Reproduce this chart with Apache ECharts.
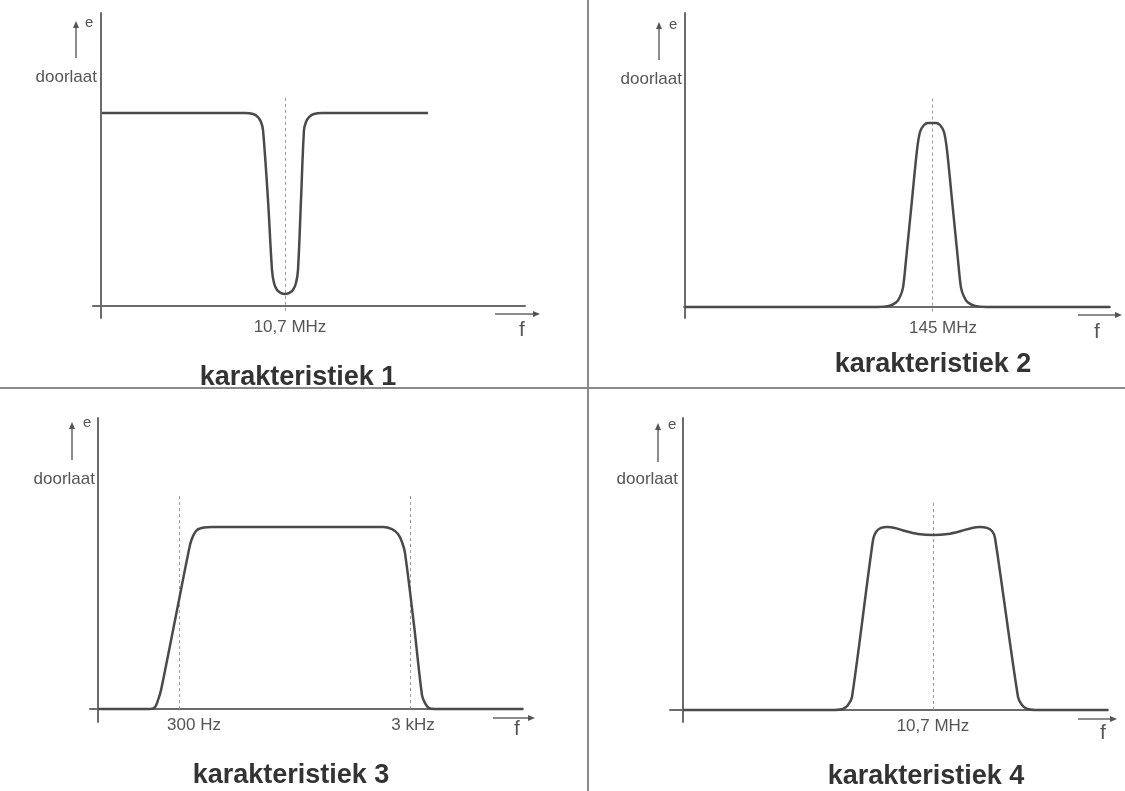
<!DOCTYPE html>
<html><head><meta charset="utf-8">
<script src="https://cdn.jsdelivr.net/npm/echarts@6/dist/echarts.min.js"></script>
<style>html,body{margin:0;padding:0;background:#fff}#c{width:1125px;height:791px}</style>
</head><body><div id="c"></div>
<script>
// ---- data (relative frequency units, transmission in % of pass level) ----
const titles = ['karakteristiek 1', 'karakteristiek 2', 'karakteristiek 3', 'karakteristiek 4'];
const yName = 'doorlaat';
const yUnit = 'e';
const xUnit = 'f';

const curve1 = [[1,100],[144,100],[152,99.5],[157,97.9],[160,95.3],[162,91.2],[167,54.9],[171,18.7],[173,11.9],[176,8.3],[180,6.7],[184,6.2],[188,6.7],[192,8.3],[195,11.9],[197,18.7],[200,54.9],[203,91.2],[205,95.3],[208,97.9],[213,99.5],[221,100],[327,100]];
const curve2 = [[0,0],[193,0],[204,0.6],[211,2.4],[215,5.6],[218,10.5],[221,25.5],[227,58.2],[232,85.3],[235,95.1],[239,98.9],[243,100],[251,100],[255,98.9],[259,95.1],[262,85.3],[267,58.2],[273,25.5],[276,10.5],[279,5.6],[283,2.4],[290,0.6],[301,0],[425,0]];
const curve3 = [[0,0],[52,0],[57,1.1],[60,4.9],[63,10.4],[78,51.6],[92,90.1],[95,95],[99,98.4],[106,99.7],[114,100],[285,100],[294,98.9],[300,96.2],[304,91.8],[307,85.7],[316,46.2],[324,7.7],[327,3.3],[331,0.5],[337,0],[425,0]];
const curve4 = [[0,0],[152,0],[160,0.5],[165,2.7],[169,7.1],[190,92.9],[193,97.3],[198,99.5],[204,100],[212,99.5],[222,97.8],[235,96.2],[250,95.6],[265,96.2],[278,97.8],[289,99.5],[297,100],[304,99.5],[309,97.8],[312,94.0],[335,7.1],[339,2.7],[344,0.5],[352,0],[425,0]];

const markers1 = [184];      const markerLabels1 = ['10,7 MHz'];
const markers2 = [247];      const markerLabels2 = ['145 MHz'];
const markers3 = [81, 312];  const markerLabels3 = ['300 Hz', '3 kHz'];
const markers4 = [250];      const markerLabels4 = ['10,7 MHz'];

// ---- layout ----
const curves = [curve1, curve2, curve3, curve4];
const markers = [markers1, markers2, markers3, markers4];
const markerLabels = [markerLabels1, markerLabels2, markerLabels3, markerLabels4];

const L = [
  {grid:{left:93,top:13,width:432,height:305}, x:[-8,424], y:[-6.2,151.8], ya:[76,21,58], e:[85,23], d:[97,77], fa:[495,540,314], f:[522,330], t:[298,378], mTop:109, mStart:-2.5, dx:[5]},
  {grid:{left:684,top:13,width:426,height:305}, x:[-1,425], y:[-6.0,159.8], ya:[659,22,60], e:[669,25], d:[682,79], fa:[1078,1122,315], f:[1097,332], t:[933,365], mTop:115, mStart:-2.5, dx:[11]},
  {grid:{left:90,top:418,width:433,height:304}, x:[-8,425], y:[-7.1,159.9], ya:[72,422,460], e:[83,423], d:[95,479], fa:[493,535,718], f:[517,729], t:[291,776], mTop:118.7, mStart:0, dx:[15,3]},
  {grid:{left:670,top:418,width:438,height:304}, x:[-13,425], y:[-6.6,159.6], ya:[658,423,462], e:[668,425], d:[678,479], fa:[1078,1117,719], f:[1103,733], t:[926,777], mTop:114.8, mStart:0, dx:[0]}
];

const axisColor = '#6b6b6b';
const textColor = '#555';
const lblFont = '17px "Liberation Sans", Arial, sans-serif';

const grids = [], xAxes = [], yAxes = [], series = [], graphics = [];

L.forEach((p, i) => {
  grids.push(Object.assign({containLabel:false}, p.grid));
  const ax = {
    type:'value', gridIndex:i,
    axisLine:{show:true, onZero:true, lineStyle:{color:axisColor, width:2}},
    axisTick:{show:false}, axisLabel:{show:false}, splitLine:{show:false}
  };
  xAxes.push(Object.assign({}, ax, {min:p.x[0], max:p.x[1]}));
  yAxes.push(Object.assign({}, ax, {min:p.y[0], max:p.y[1]}));

  series.push({
    type:'line', xAxisIndex:i, yAxisIndex:i, data:curves[i],
    symbol:'none', smooth:0.3, z:5,
    lineStyle:{color:'#4a4a4a', width:2.5},
    markLine:{
      silent:true, symbol:['none','none'], animation:false,
      lineStyle:{color:'#9a9a9a', type:[3,3], width:1},
      data: markers[i].map((m, k) => [
        {coord:[m, p.mStart], label:{show:true, position:'start', distance:8, offset:[p.dx[k]||0,0],
          formatter:markerLabels[i][k], color:textColor, fontSize:17, fontFamily:'"Liberation Sans", Arial, sans-serif'}},
        {coord:[m, p.mTop]}
      ])
    }
  });

  // y arrow + labels
  graphics.push({type:'line', shape:{x1:p.ya[0], y1:p.ya[1]+5, x2:p.ya[0], y2:p.ya[2]}, style:{stroke:'#666', lineWidth:1.5}});
  graphics.push({type:'polygon', shape:{points:[[p.ya[0]-3,p.ya[1]+7],[p.ya[0]+3,p.ya[1]+7],[p.ya[0],p.ya[1]]]}, style:{fill:'#555'}});
  graphics.push({type:'text', x:p.e[0], y:p.e[1], style:{text:yUnit, font:'15px "Liberation Sans", Arial, sans-serif', fill:textColor, align:'left', verticalAlign:'middle'}});
  graphics.push({type:'text', x:p.d[0], y:p.d[1], style:{text:yName, font:lblFont, fill:textColor, align:'right', verticalAlign:'middle'}});
  // x arrow + f
  graphics.push({type:'line', shape:{x1:p.fa[0], y1:p.fa[2], x2:p.fa[1]-5, y2:p.fa[2]}, style:{stroke:'#666', lineWidth:1.5}});
  graphics.push({type:'polygon', shape:{points:[[p.fa[1]-7,p.fa[2]-3],[p.fa[1]-7,p.fa[2]+3],[p.fa[1],p.fa[2]]]}, style:{fill:'#555'}});
  graphics.push({type:'text', x:p.f[0], y:p.f[1], style:{text:xUnit, font:'21px "Liberation Sans", Arial, sans-serif', fill:textColor, align:'center', verticalAlign:'middle'}});
  // title
  graphics.push({type:'text', x:p.t[0], y:p.t[1], style:{text:titles[i], font:'bold 27px "Liberation Sans", Arial, sans-serif', fill:'#333', align:'center', verticalAlign:'middle'}});
});

// dividers
graphics.push({type:'line', shape:{x1:0, y1:388, x2:1125, y2:388}, style:{stroke:'#8a8a8a', lineWidth:2}});
graphics.push({type:'line', shape:{x1:588, y1:0, x2:588, y2:791}, style:{stroke:'#8a8a8a', lineWidth:2}});

const chart = echarts.init(document.getElementById('c'));
chart.setOption({
  backgroundColor:'#fff',
  animation:false,
  grid:grids, xAxis:xAxes, yAxis:yAxes, series:series,
  graphic:graphics
});
</script></body></html>
